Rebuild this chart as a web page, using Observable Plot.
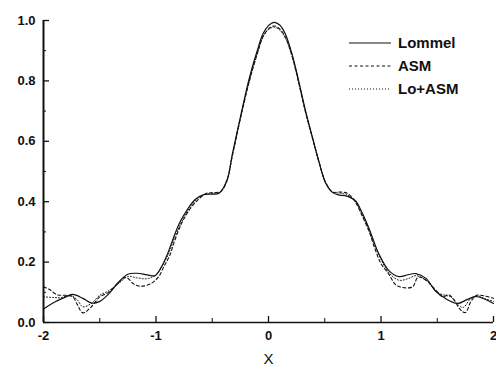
<!DOCTYPE html>
<html><head><meta charset="utf-8">
<script src="https://cdn.jsdelivr.net/npm/d3@7"></script>
<script src="https://cdn.jsdelivr.net/npm/@observablehq/plot@0.6"></script>
<style>
body{margin:0;background:#fff;}
#wrap{position:relative;width:496px;height:369px;font-family:"Liberation Sans",Arial,sans-serif;}
#legend{position:absolute;left:349px;top:31px;font-size:15px;font-weight:bold;color:#111;}
#legend div{height:23px;display:flex;align-items:center;}
#legend svg{margin-right:7px;}
</style>
</head><body>
<div id="wrap"><div id="legend"></div></div>
<script>
const lommelX = [-2.00,-1.90,-1.80,-1.74,-1.65,-1.57,-1.50,-1.42,-1.33,-1.25,-1.17,-1.08,-1.01,-0.95,-0.90,-0.84,-0.79,-0.72,-0.65,-0.58,-0.50,-0.44,-0.37,-0.32,-0.25,-0.17,-0.10,-0.05,0.00,0.05,0.10,0.15,0.20,0.24,0.33,0.40,0.45,0.51,0.57,0.63,0.68,0.77,0.83,0.89,0.98,1.07,1.16,1.24,1.31,1.40,1.48,1.57,1.68,1.76,1.84,1.92,2.00];
const lommelY = [0.045,0.068,0.085,0.093,0.080,0.064,0.070,0.095,0.135,0.160,0.163,0.158,0.155,0.185,0.225,0.285,0.330,0.375,0.408,0.423,0.425,0.428,0.470,0.560,0.680,0.810,0.900,0.955,0.983,0.994,0.985,0.955,0.900,0.845,0.700,0.600,0.530,0.460,0.430,0.422,0.420,0.404,0.365,0.315,0.228,0.172,0.152,0.158,0.162,0.146,0.106,0.080,0.063,0.075,0.086,0.078,0.063];

const asmX = [-2.00,-1.95,-1.88,-1.80,-1.74,-1.70,-1.65,-1.58,-1.50,-1.43,-1.35,-1.27,-1.20,-1.14,-1.05,-0.98,-0.93,-0.88,-0.83,-0.77,-0.70,-0.63,-0.55,-0.48,-0.42,-0.37,-0.32,-0.25,-0.17,-0.10,-0.05,0.00,0.05,0.10,0.15,0.20,0.24,0.33,0.40,0.45,0.51,0.57,0.63,0.70,0.77,0.83,0.89,0.95,1.00,1.07,1.13,1.19,1.28,1.33,1.40,1.48,1.55,1.60,1.65,1.70,1.75,1.80,1.85,1.92,2.00];
const asmY = [0.118,0.110,0.092,0.090,0.085,0.060,0.032,0.050,0.085,0.098,0.125,0.150,0.128,0.120,0.128,0.150,0.185,0.220,0.275,0.330,0.375,0.405,0.428,0.430,0.435,0.470,0.555,0.675,0.800,0.890,0.945,0.972,0.982,0.972,0.945,0.895,0.840,0.695,0.598,0.530,0.462,0.432,0.432,0.428,0.400,0.355,0.305,0.240,0.195,0.160,0.125,0.116,0.118,0.150,0.140,0.110,0.085,0.092,0.075,0.045,0.033,0.070,0.090,0.088,0.080];

const loasmX = [-2.00,-1.92,-1.85,-1.76,-1.70,-1.65,-1.58,-1.50,-1.42,-1.33,-1.25,-1.17,-1.08,-1.00,-0.94,-0.88,-0.83,-0.77,-0.70,-0.63,-0.56,-0.49,-0.43,-0.37,-0.32,-0.25,-0.17,-0.10,-0.05,0.00,0.05,0.10,0.15,0.20,0.24,0.33,0.40,0.45,0.51,0.57,0.63,0.69,0.77,0.83,0.89,0.98,1.07,1.16,1.24,1.31,1.40,1.50,1.57,1.62,1.68,1.73,1.80,1.86,1.93,2.00];
const loasmY = [0.085,0.083,0.082,0.090,0.075,0.052,0.062,0.090,0.105,0.130,0.152,0.148,0.145,0.158,0.190,0.235,0.285,0.335,0.380,0.410,0.425,0.428,0.432,0.468,0.555,0.675,0.800,0.890,0.945,0.970,0.978,0.968,0.942,0.892,0.838,0.695,0.598,0.530,0.462,0.432,0.428,0.424,0.402,0.360,0.310,0.225,0.165,0.140,0.145,0.155,0.140,0.100,0.090,0.085,0.060,0.050,0.080,0.088,0.078,0.070];

const seriesNames = ["Lommel","ASM","Lo+ASM"];
const xMajor = [-2,-1,0,1,2];
const xMinor = [-1.5,-0.5,0.5,1.5];
const yMajor = [0,0.2,0.4,0.6,0.8,1.0];
const yMinor = [0.1,0.3,0.5,0.7,0.9];
const xLabel = "X";

const styles = {
  "Lommel": {dash: null, width: 1.2},
  "ASM": {dash: "3,2.5", width: 1.1},
  "Lo+ASM": {dash: "1,2", width: 1.0}
};

const toRows = (xs, ys) => xs.map((x, i) => ({x, y: ys[i]}));
const data = {
  "Lommel": toRows(lommelX, lommelY),
  "ASM": toRows(asmX, asmY),
  "Lo+ASM": toRows(loasmX, loasmY)
};

const W = 496, H = 369, mL = 43, mR = 3, mT = 20, mB = 47;
const pw = W - mL - mR, ph = H - mT - mB;

const chart = Plot.plot({
  width: W, height: H,
  marginLeft: mL, marginRight: mR, marginTop: mT, marginBottom: mB,
  style: {fontFamily: '"Liberation Sans", Arial, sans-serif', fontSize: "13px", fontWeight: "bold", color: "#111", background: "#fff"},
  x: {domain: [-2, 2]},
  y: {domain: [0, 1]},
  marks: [
    Plot.axisX(xMajor, {tickSize: 0, tickPadding: 8, tickFormat: d => String(d), label: null}),
    Plot.axisY(yMajor, {tickSize: 0, tickPadding: 8, tickFormat: d3.format(".1f"), label: null}),
    Plot.text([xLabel], {text: d => d, frameAnchor: "bottom", dy: 41, fontSize: 15, fontWeight: "normal", fill: "#111"}),
    ...seriesNames.map(n => Plot.line(data[n], {x: "x", y: "y", curve: "catmull-rom", stroke: "#111", strokeWidth: styles[n].width, strokeDasharray: styles[n].dash})),
    Plot.tickX(xMajor, {x: d => d, insetTop: ph - 6, stroke: "#111", strokeWidth: 1.3}),
    Plot.tickX(xMinor, {x: d => d, insetTop: ph - 4, stroke: "#111", strokeWidth: 1}),
    Plot.tickY(yMajor, {y: d => d, insetRight: pw - 6, stroke: "#111", strokeWidth: 1.3}),
    Plot.tickY(yMinor, {y: d => d, insetRight: pw - 3, stroke: "#111", strokeWidth: 1}),
    Plot.ruleX([-2], {stroke: "#111", strokeWidth: 2}),
    Plot.ruleY([0], {stroke: "#111", strokeWidth: 1.5})
  ]
});
document.getElementById("wrap").prepend(chart);

const legend = document.getElementById("legend");
for (const n of seriesNames) {
  const row = document.createElement("div");
  const s = styles[n];
  row.innerHTML = `<svg width="42" height="4"><line x1="0" x2="42" y1="2" y2="2" stroke="#111" stroke-width="${s.width}" ${s.dash ? `stroke-dasharray="${s.dash}"` : ""}/></svg><span>${n}</span>`;
  legend.appendChild(row);
}
</script>
</body></html>
